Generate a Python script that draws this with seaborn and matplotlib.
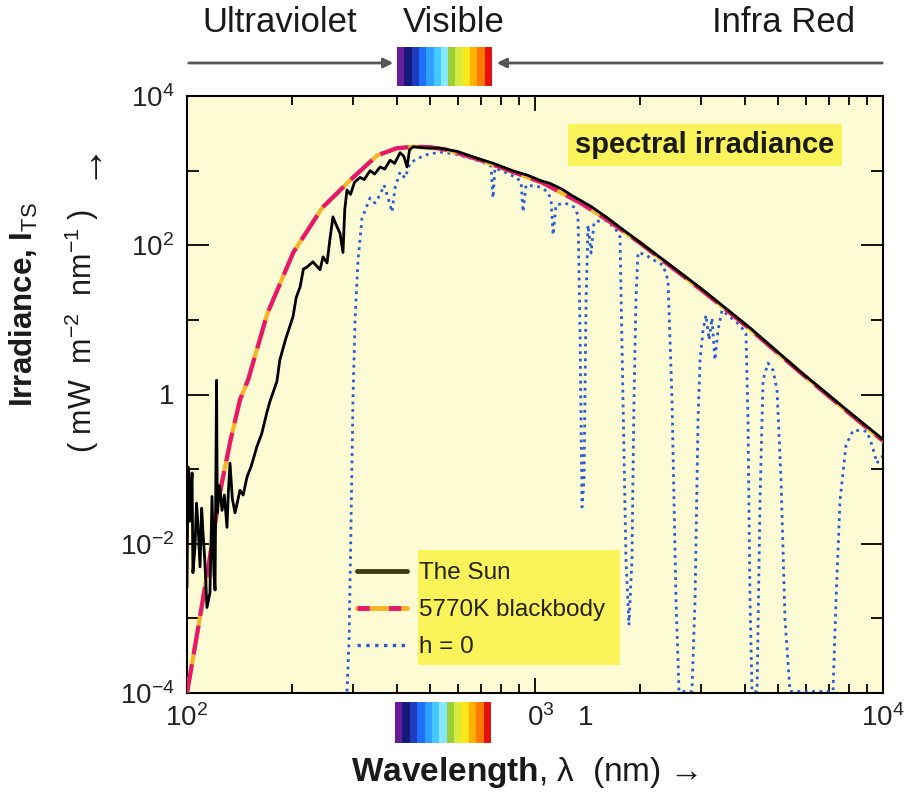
import numpy as np
import pandas as pd
import matplotlib
matplotlib.use("Agg")
import matplotlib.pyplot as plt
import matplotlib.transforms as mtransforms
from matplotlib.patches import Rectangle, FancyArrowPatch
from matplotlib.lines import Line2D
from matplotlib.ticker import NullFormatter
import seaborn as sns

# ---------------- data ----------------
# The Sun (top of atmosphere) : wavelength (nm) / irradiance (mW m-2 nm-1)
sun_wl = [100, 100.7, 102.0, 103.4, 104.0, 105.4, 106.5, 107.5, 109.0, 110.2,
          111.2, 112.5, 114.1, 116.4, 118.0, 119.5, 120.4, 121.3, 121.6, 122.2,
          124.0, 126.1, 128.0, 130.3, 131.5, 132.9, 135.0, 137.4, 142.0, 145.0,
          148.8, 153.0, 158.8, 164.0, 169.4, 173.0, 181.3, 184.8, 192.0, 201.6,
          206.0, 211.3, 216.0, 221.2, 230.0, 241.1, 246.0, 252.6, 258.0, 262.7,
          268.0, 275.2, 280.7, 284.0, 288.2, 295.0, 303.0, 314.2, 323.0, 335.9,
          346.0, 358.9, 370.0, 383.5, 395.0, 409.6, 420.0, 428.7, 436.0, 446.7,
          470.0, 499.5, 530, 558, 600, 692, 760, 865, 950, 1050,
          1100, 1200, 1270, 1350, 1450, 1610, 1750, 2000, 2240, 2980,
          3400, 4150, 5770, 8040, 10000]
sun_val = [2.6e-3, 0.107, 0.02, 0.089, 4.1e-3, 8.9e-3, 0.035, 0.019, 4.9e-3, 0.03,
           0.0138, 0.006, 1.4e-3, 2.2e-3, 0.043, 0.004, 2.4e-3, 0.3, 1.55, 0.026,
           0.06, 0.028, 0.045, 0.0166, 0.05, 0.12, 0.04, 0.026, 0.052, 0.045,
           0.079, 0.11, 0.2, 0.3, 0.56, 0.8, 1.5, 2.9, 5.5, 11,
           20, 27.5, 48, 51, 60, 47, 70, 58, 130, 240,
           190, 145, 80, 300, 550, 480, 700, 810, 760, 1000,
           900, 1120, 1050, 1380, 1250, 1740, 1550, 1120, 1900, 2090,
           2040, 2000, 2010, 1920, 1800, 1430, 1250, 990, 870, 720,
           680, 560, 470, 400, 330, 235, 175, 110, 74, 27,
           16.5, 7.8, 2.05, 0.57, 0.25]

# 5770 K blackbody
bb_wl = [100, 107, 115, 124.5, 133, 142, 150, 170, 202, 245,
         300, 352, 400, 447, 500, 558, 692, 865, 1050, 1350,
         1610, 2000, 2240, 2980, 3400, 4150, 5770, 8040, 10000]
bb_val = [1.0e-4, 6.3e-4, 4.7e-3, 0.05, 0.23, 0.85, 1.6, 12, 80, 320,
          810, 1600, 1990, 2090, 2060, 1900, 1400, 960, 690, 370,
          220, 108, 72, 26, 16, 7.5, 2.0, 0.55, 0.24]

# h = 0 (sea level)
h0_wl = [288.3, 292.2, 296.1, 299.9, 304.0, 310.0, 318.4, 327.0, 335.7, 346.9,
         358.6, 368.3, 378.2, 388.3, 396.0, 409.4, 423.1, 437.4, 452.1, 483.0,
         533.3, 588.9, 650.4, 718.3, 747.5, 757.4, 767.5, 820.0, 887.8, 911.9,
         924.0, 942.2, 1034, 1090, 1112, 1127, 1149, 1220, 1294, 1329,
         1347, 1365, 1383, 1402, 1420, 1449, 1478, 1589, 1698, 1755,
         1790, 1826, 1862, 1899, 1925, 1950, 1977, 2070, 2212, 2333,
         2411, 2476, 2542, 2593, 2825, 2883, 2941, 2980, 3040, 3100,
         3162, 3225, 3289, 3357, 3447, 3633, 3882, 4039, 4093, 4148,
         4203, 4345, 4432, 4521, 4671, 4830, 4960, 5093, 5230, 5405,
         7183, 7328, 7524, 7830, 8202, 8590, 8995, 9299, 9612, 9804, 10000]
h0_val = [1.05e-4, 5.1e-4, 0.0207, 0.84, 9.9, 63, 232, 315, 430, 368,
          471, 641, 430, 279, 585, 958, 796, 1265, 1387, 1618,
          1775, 1670, 1476, 1265, 1153, 430, 1084, 958, 796, 703,
          279, 641, 603, 516, 404, 137, 346, 368, 325, 254,
          7.3, 0.031, 0.071, 18.4, 187, 78.6, 205, 218, 170, 129,
          0.84, 6.0e-3, 8.1e-4, 6.0e-3, 0.84, 18.4, 80, 75, 62, 54.3,
          34.2, 0.84, 1.75e-3, 1.05e-4, 1.05e-4, 1.75e-3, 0.454, 2.89, 7.3, 11.6,
          5.4, 10.6, 2.89, 7.3, 13.5, 11, 8.5, 6.5, 0.45, 1.75e-3,
          1.05e-4, 1.05e-4, 0.038, 1.56, 2.64, 2.12, 1.15, 0.071, 9.5e-4, 1.05e-4,
          1.05e-4, 1.75e-3, 0.038, 0.21, 0.33, 0.33, 0.32, 0.21, 0.12, 0.14, 0.15]

series_labels = ["The Sun", "5770K blackbody", "h = 0"]
x_major = [100, 1000, 10000]
x_major_labels = [r"$10^2$", r"$0^3$   1", r"$10^4$"]
x_minor = [200, 300, 400, 500, 600, 700, 800, 900,
           2000, 3000, 4000, 5000, 6000, 7000, 8000, 9000]
y_major = [1e-4, 1e-2, 1, 1e2, 1e4]
y_major_labels = [r"$10^{-4}$", r"$10^{-2}$", "1", r"$10^2$", r"$10^4$"]
y_minor = [1e-3, 1e-1, 10, 1e3]
spectrum_colors = ['#6a1b9a', '#141a7a', '#1f3cc0', '#1f6fff', '#2fa0ff', '#45c8ff',
                   '#86e8ff', '#9ccd3a', '#d6ec3a', '#ffe81a', '#ffb000', '#ff7a00', '#e8100f']

# ---------------- style ----------------
sns.set_theme(style="ticks")
plt.rcParams['font.family'] = ['Liberation Sans', 'DejaVu Sans']
plt.rcParams['mathtext.fontset'] = 'custom'
plt.rcParams['mathtext.rm'] = 'Liberation Sans'
plt.rcParams['mathtext.it'] = 'Liberation Sans:italic'
plt.rcParams['mathtext.bf'] = 'Liberation Sans:bold'

W, H = 906, 798
fig = plt.figure(figsize=(W / 100, H / 100), dpi=100)
fig.patch.set_facecolor('white')
ax = fig.add_axes([187 / W, 1 - 693 / H, 696 / W, 597 / H])
ax.set_facecolor('#fdfbd3')

df_sun = pd.DataFrame({"wl": sun_wl, "val": sun_val})
df_bb = pd.DataFrame({"wl": bb_wl, "val": bb_val})
df_h0 = pd.DataFrame({"wl": h0_wl, "val": h0_val})

sun_color = 'black'
pink = '#e6176c'
amber = '#f5b526'
blue = '#2a5bd8'

sns.lineplot(data=df_h0, x="wl", y="val", ax=ax, color=blue, lw=2.0,
             linestyle=':', estimator=None, sort=False, zorder=2)
sns.lineplot(data=df_bb, x="wl", y="val", ax=ax, color=amber, lw=3.0,
             estimator=None, sort=False, zorder=3)
sns.lineplot(data=df_bb, x="wl", y="val", ax=ax, color=pink, lw=3.0,
             estimator=None, sort=False, zorder=3.1)
ax.lines[-1].set_dashes([7, 2.4])
sns.lineplot(data=df_sun, x="wl", y="val", ax=ax, color=sun_color, lw=2.0,
             estimator=None, sort=False, zorder=3.5)

ax.set_xscale('log')
ax.set_yscale('log')
ax.set_xlim(100, 1e4)
ax.set_ylim(1e-4, 1e4)
ax.set_xlabel("")
ax.set_ylabel("")

ax.set_xticks(x_major)
ax.set_xticklabels(x_major_labels)
ax.set_xticks(x_minor, minor=True)
ax.xaxis.set_minor_formatter(NullFormatter())
ax.set_yticks(y_major)
ax.set_yticklabels(y_major_labels)
ax.set_yticks(y_minor, minor=True)
ax.yaxis.set_minor_formatter(NullFormatter())

ax.tick_params(which='both', direction='in', top=True, right=True, color='black')
ax.tick_params(axis='x', which='major', length=11, width=1.3, labelsize=20, pad=8,
               labelcolor='#222222')
ax.tick_params(axis='x', which='minor', length=6.5, width=1.3)
ax.tick_params(axis='y', which='major', length=15.5, width=1.3, labelsize=20, pad=9,
               labelcolor='#222222')
ax.tick_params(axis='y', which='minor', length=8.5, width=1.3)
for s in ax.spines.values():
    s.set_color('black')
    s.set_linewidth(1.5)

lab = ax.get_xticklabels()[1]
lab.set_horizontalalignment('left')
lab.set_transform(lab.get_transform() +
                  mtransforms.ScaledTranslation(-8 / 100, 0, fig.dpi_scale_trans))

# legend
h_sun = Line2D([], [], color='#3c3c10', lw=3.5)
h_bb1 = Line2D([], [], color=amber, lw=3.5)
h_bb2 = Line2D([], [], color=pink, lw=3.5, dashes=[2.5, 4])
h_h0 = Line2D([], [], color=blue, lw=2.4, linestyle=':')
ax.add_patch(Rectangle(((418 - 187) / 696, (693 - 665) / 597), (620 - 418) / 696,
                       (665 - 550) / 597, transform=ax.transAxes,
                       facecolor='#fbf35a', edgecolor='none', zorder=4))
leg = ax.legend([h_sun, (h_bb1, h_bb2), h_h0], series_labels,
                loc='upper left', bbox_to_anchor=((357 - 187) / 696, (693 - 562) / 597),
                frameon=False, fontsize=17.5, handlelength=2.05, handletextpad=0.5,
                labelspacing=0.62, borderpad=0, borderaxespad=0)
for t in leg.get_texts():
    t.set_color('#222200')
leg.set_zorder(5)

# annotation "spectral irradiance"
ax.text((705 - 187) / 696, (693 - 145) / 597, "spectral irradiance",
        transform=ax.transAxes, ha='center', va='center', fontsize=21,
        fontweight='bold', color='#1a1a1a', zorder=6,
        bbox=dict(boxstyle='square,pad=0.25', facecolor='#fbf35a', edgecolor='none'))

# axis titles
fig.text(24 / W, 1 - 305 / H, r"Irradiance, I$_{\mathrm{TS}}$", rotation=90,
         ha='center', va='center', fontsize=22.5, fontweight='bold', color='#1a1a1a')
fig.text(82 / W, 1 - 331 / H, r"( mW  m$^{-2}$  nm$^{-1}$ )", rotation=90,
         ha='center', va='center', fontsize=22, color='#1a1a1a')
fig.text(84 / W, 1 - 158 / H, "→", rotation=90, ha='center', va='center',
         fontsize=30, color='#1a1a1a')
fig.text(525 / W, 1 - 772 / H, r"$\mathbf{Wavelength}$, λ  (nm) →",
         ha='center', va='center', fontsize=24, color='#1a1a1a')

# top region labels and arrows
fig.text(280 / W, 1 - 22 / H, "Ultraviolet", ha='center', va='center', fontsize=25,
         color='#1a1a1a')
fig.text(454 / W, 1 - 22 / H, "Visible", ha='center', va='center', fontsize=25,
         color='#1a1a1a')
fig.text(784 / W, 1 - 22 / H, "Infra Red", ha='center', va='center', fontsize=25,
         color='#1a1a1a')
ya = 1 - 63 / H
fig.add_artist(FancyArrowPatch((186 / W, ya), (396 / W, ya), transform=fig.transFigure,
                               arrowstyle='-|>', mutation_scale=14, color='#555555', lw=2))
fig.add_artist(FancyArrowPatch((885 / W, ya), (494 / W, ya), transform=fig.transFigure,
                               arrowstyle='-|>', mutation_scale=14, color='#555555', lw=2))


def spectrum_bar(x0, x1, y0, y1):
    n = len(spectrum_colors)
    w = (x1 - x0) / n
    for i, c in enumerate(spectrum_colors):
        fig.add_artist(Rectangle(((x0 + i * w) / W, 1 - y1 / H), w / W, (y1 - y0) / H,
                                 transform=fig.transFigure, facecolor=c,
                                 edgecolor='none', zorder=6))


spectrum_bar(397, 492, 47, 86)
spectrum_bar(395, 491, 702, 743)

fig.savefig("out.png", dpi=100, facecolor='white')
